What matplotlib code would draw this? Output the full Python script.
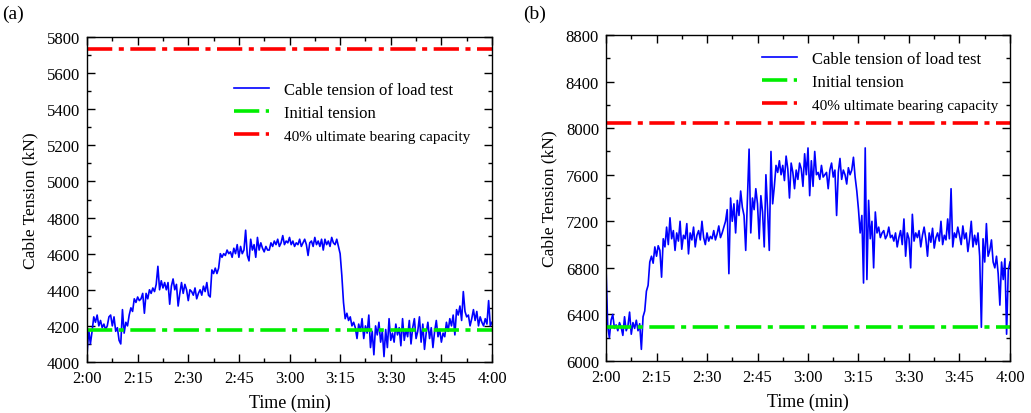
import numpy as np
import matplotlib
matplotlib.use("Agg")
import matplotlib.pyplot as plt
from matplotlib.ticker import MultipleLocator, FuncFormatter

plt.rcParams['font.family'] = ['Liberation Serif', 'DejaVu Serif']
plt.rcParams['mathtext.fontset'] = 'stix'

# time in minutes, sampled every 0.5 min from 2:00 to 4:00
t_min = np.arange(120, 240.5, 0.5)

# (a) cable tension, kN
tension_a = [
    4040, 4180, 4100, 4170, 4250, 4220, 4260, 4200, 4230, 4190,
    4210, 4180, 4200, 4250, 4260, 4200, 4250, 4170, 4190, 4120,
    4100, 4290, 4160, 4220, 4200, 4260, 4300, 4280, 4350, 4330,
    4360, 4340, 4350, 4380, 4270, 4380, 4350, 4400, 4380, 4410,
    4390, 4430, 4530, 4400, 4450, 4410, 4440, 4400, 4440, 4320,
    4420, 4460, 4400, 4430, 4310, 4380, 4440, 4380, 4430, 4400,
    4340, 4400, 4390, 4370, 4410, 4350, 4380, 4400, 4370, 4420,
    4390, 4440, 4370, 4360, 4510, 4490, 4520, 4490, 4520, 4600,
    4580, 4600, 4590, 4620, 4600, 4610, 4580, 4630, 4600, 4650,
    4580, 4640, 4600, 4620, 4730, 4590, 4560, 4680, 4620, 4650,
    4580, 4690, 4620, 4660, 4630, 4610, 4640, 4620, 4620, 4660,
    4640, 4670, 4650, 4680, 4640, 4660, 4700, 4650, 4670, 4660,
    4690, 4650, 4670, 4640, 4660, 4650, 4680, 4640, 4660, 4680,
    4650, 4590, 4660, 4670, 4640, 4690, 4650, 4670, 4640, 4680,
    4620, 4680, 4650, 4670, 4640, 4690, 4660, 4650, 4680, 4640,
    4600, 4480, 4330, 4240, 4270, 4230, 4250, 4200, 4220, 4190,
    4130, 4210, 4170, 4240, 4130, 4200, 4160, 4260, 4080, 4170,
    4040, 4200, 4150, 4220, 4110, 4170, 4030, 4180, 4080, 4240,
    4120, 4160, 4110, 4210, 4150, 4190, 4090, 4240, 4120, 4180,
    4140, 4230, 4100, 4190, 4240, 4130, 4170, 4250, 4110, 4210,
    4070, 4160, 4220, 4130, 4190, 4080, 4170, 4230, 4140, 4180,
    4110, 4160, 4140, 4220, 4170, 4240, 4200, 4260, 4150, 4290,
    4260, 4310, 4230, 4390, 4280, 4250, 4260, 4200, 4240, 4290,
    4230, 4280, 4200, 4250, 4220, 4200, 4240, 4210, 4340, 4200,
    4220,
]

# (b) cable tension, kN
tension_b = [
    6800, 6300, 6200, 6350, 6400, 6280, 6310, 6260, 6330, 6290,
    6220, 6380, 6260, 6300, 6420, 6230, 6330, 6280, 6350, 6260,
    6320, 6100, 6380, 6430, 6600, 6650, 6850, 6900, 6840, 6980,
    6900, 6990, 6950, 6720, 7050, 6980, 7150, 7000, 7230, 7050,
    7120, 6950, 7100, 7030, 7200, 6960, 7080, 7050, 7180, 6920,
    7100, 7040, 7150, 6980, 7080, 7120, 7040, 7200, 7060, 7000,
    7100, 7030, 7070, 7050, 7120, 7040, 7090, 7160, 7060, 7100,
    7150, 7200, 7300, 6750, 7400, 7200, 7350, 7100, 7380, 7250,
    7460, 7320, 7250, 6950, 7380, 7820, 7100, 7400, 7300, 7480,
    7350, 7050, 7420, 7280, 6980, 7600, 7300, 6950, 7800, 7350,
    7500, 7680, 7620, 7720, 7600, 7680, 7550, 7760, 7650, 7400,
    7700, 7620, 7480, 7640, 7560, 7700, 7650, 7500, 7780, 7600,
    7830, 7420, 7720, 7500, 7800, 7600, 7620, 7560, 7680, 7580,
    7600, 7620, 7480, 7640, 7700, 7580, 7640, 7250, 7620, 7740,
    7560, 7640, 7600, 7520, 7660, 7600, 7640, 7750, 7580, 7460,
    7300, 7100, 7250, 6670, 7830, 6700, 7380, 7050, 7200, 6800,
    7280, 7100, 7150, 7060, 7100, 7120, 7050, 7080, 7150, 7060,
    7080, 7030, 7100, 6980, 7060, 7120, 7000, 7220, 6900, 7100,
    7050, 6800, 7260, 7030, 7100, 7060, 7120, 6980, 7080, 7150,
    7050, 6900, 7100, 7020, 7140, 6970, 7060, 7100, 7030, 7200,
    7000, 7080, 7040, 7220, 7050, 7480, 6980, 7100, 7060, 7150,
    7080, 7000, 7160, 7050, 7100, 6940, 7050, 7200, 6980, 7080,
    7000, 7100, 6900, 6290, 7050, 6850, 7180, 6900, 6950, 7040,
    6850, 6800, 6900, 6750, 6480, 6850, 6700, 6880, 6230, 6780,
    6850,
]

initial_tension = [4175, 6290]
capacity_40 = [5735, 8045]
ylims = [(4000, 5800), (6000, 8800)]
y_major = [200, 400]
panel_tags = ['(a)', '(b)']
series = [tension_a, tension_b]

labels = ['Cable tension of load test', 'Initial tension', '40% ultimate bearing capacity']


def hm(x, pos):
    return '%d:%02d' % (int(x) // 60, int(x) % 60)


fig = plt.figure(figsize=(10.31, 4.14), dpi=100)
ax_pos = [[0.0844, 0.1232, 0.3928, 0.7850], [0.5878, 0.1256, 0.3918, 0.7874]]
leg_anchor = [(0.327, 0.907), (0.349, 0.996)]
tag_x = [0.002, 0.507]

for i in range(2):
    ax = fig.add_axes(ax_pos[i])
    ax.plot(t_min, series[i], color='#0000ff', lw=1.2, label=labels[0])
    ax.axhline(initial_tension[i], color='#00ee00', lw=2.6,
               dashes=(7, 1.8, 1.4, 1.8), label=labels[1])
    ax.axhline(capacity_40[i], color='#ff0000', lw=2.6,
               dashes=(7, 1.8, 1.4, 1.8), label=labels[2])
    ax.set_xlim(120, 240)
    ax.set_ylim(*ylims[i])
    ax.xaxis.set_major_locator(MultipleLocator(15))
    ax.xaxis.set_minor_locator(MultipleLocator(7.5))
    ax.xaxis.set_major_formatter(FuncFormatter(hm))
    ax.yaxis.set_major_locator(MultipleLocator(y_major[i]))
    ax.yaxis.set_minor_locator(MultipleLocator(y_major[i] / 2))
    ax.tick_params(which='both', direction='in', top=True, right=True, labelsize=12)
    ax.tick_params(which='major', length=6, width=1)
    ax.tick_params(which='minor', length=3, width=1)
    ax.tick_params(axis='x', which='major', pad=6)
    ax.tick_params(axis='y', which='major', pad=5)
    for s in ax.spines.values():
        s.set_linewidth(1.0)
    ax.set_xlabel('Time (min)', fontsize=13, labelpad=5)
    ax.set_ylabel('Cable Tension (kN)', fontsize=12.5, labelpad=6)
    leg = ax.legend(loc='upper left', bbox_to_anchor=leg_anchor[i], frameon=False,
                    fontsize=12, handlelength=2.1, handletextpad=0.9, labelspacing=0.42)
    leg.get_texts()[2].set_fontsize(11)
    fig.text(tag_x[i], 0.955, panel_tags[i], fontsize=14)

fig.savefig('out.png', dpi=100)
